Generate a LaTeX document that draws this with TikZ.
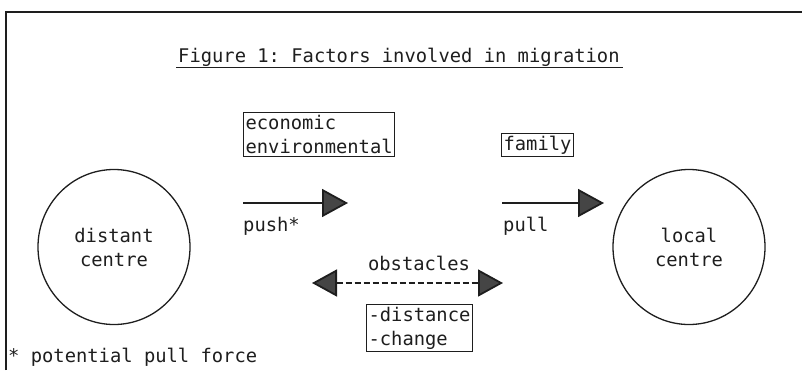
\documentclass[tikz,border=0pt]{standalone}
\usepackage{fontspec}
\setmonofont{DejaVu Sans Mono}
\usetikzlibrary{arrows.meta,shapes.geometric}
\definecolor{ink}{HTML}{1E1E1E}
\definecolor{headfill}{HTML}{454545}
\tikzset{
  txt/.style={font=\ttfamily\fontsize{18.8}{24}\selectfont, text=ink, inner sep=0pt},
  boxed/.style={txt, draw=ink, line width=1.1pt, inner xsep=2pt, inner ysep=2.5pt, align=left},
  centre/.style={draw=ink, line width=1.3pt, ellipse, minimum width=152pt, minimum height=155pt, txt, align=center},
  force/.style={draw=ink, line width=1.8pt, -{Triangle[length=26pt,width=28pt,fill=headfill]}},
  hinder/.style={draw=ink, line width=1.8pt, dash pattern=on 6pt off 3pt,
     {Triangle[length=25pt,width=27pt,fill=headfill]}-{Triangle[length=25pt,width=27pt,fill=headfill]}},
  frame/.style={draw=ink, line width=1.4pt}
}
\begin{document}
\begin{tikzpicture}[x=1pt,y=-1pt]
\useasboundingbox (0,0) rectangle (802,370);
% frame
\coordinate (fl) at (6,370);
\coordinate (ftl) at (6,12);
\coordinate (ftr) at (802,12);
\draw[frame] (fl) -- (ftl) -- (ftr);
% title
\node[txt, anchor=base west] (title) at (178,62) {Figure 1: Factors involved in migration};
\draw[ink, line width=1.2pt] ([xshift=-2pt,yshift=-1.5pt]title.south west) -- ([xshift=3pt,yshift=-1.5pt]title.south east);
% boxes
\node[boxed, anchor=north west] (econ) at (243,112) {economic\\environmental};
\node[boxed, anchor=north west] (fam) at (501,133) {family};
% circles
\node[centre] (distant) at (114,247) {distant\\centre};
\node[centre] (local) at (689,247) {local\\centre};
% arrows
\coordinate (pushs) at (243,203);
\coordinate (pushe) at (348,203);
\coordinate (pulls) at (502,203);
\coordinate (pulle) at (604,203);
\draw[force] (pushs) -- (pushe);
\draw[force] (pulls) -- (pulle);
\node[txt, anchor=base west] (push) at (243,231) {push*};
\node[txt, anchor=base west] (pull) at (503,231) {pull};
% obstacles
\node[txt, anchor=base] (obst) at (419,270) {obstacles};
\coordinate (obl) at (312,283);
\coordinate (obr) at (503,283);
\draw[hinder] (obl) -- (obr);
\node[boxed, anchor=north west] (dist) at (366,304) {-distance\\-change};
% footnote
\node[txt, anchor=base west] (foot) at (8,362) {* potential pull force};
\end{tikzpicture}
\end{document}
